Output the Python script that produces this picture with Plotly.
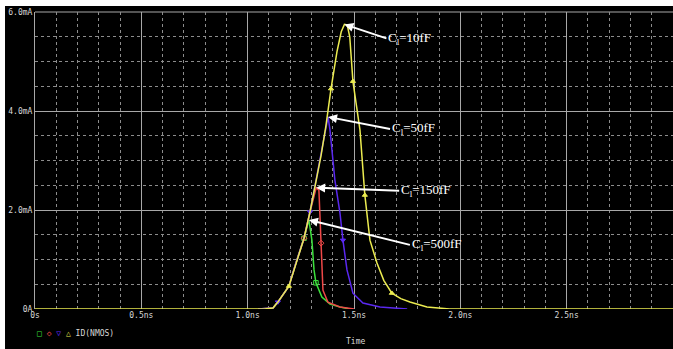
import plotly.graph_objects as go
import numpy as np

# ---------------- data (time in ns, current in mA) ----------------
t_10 = [0.0, 1.08, 1.119, 1.142, 1.194, 1.227, 1.265, 1.293, 1.316, 1.345, 1.368, 1.392, 1.42, 1.44,
        1.455, 1.468, 1.48, 1.495, 1.528, 1.551, 1.575, 1.608, 1.64, 1.678, 1.72, 1.763, 1.843, 1.95, 3.0]
i_10 = [0.0, 0.0, 0.02, 0.14, 0.46, 0.93, 1.43, 1.96, 2.46, 3.1, 3.7, 4.45, 5.2, 5.6,
        5.75, 5.74, 5.5, 4.6, 3.62, 2.30, 1.39, 0.93, 0.58, 0.32, 0.21, 0.14, 0.04, 0.0, 0.0]

t_50 = [1.05, 1.119, 1.142, 1.194, 1.227, 1.265, 1.293, 1.316, 1.345, 1.378, 1.387, 1.41, 1.434,
        1.448, 1.467, 1.495, 1.542, 1.622, 1.75]
i_50 = [0.0, 0.02, 0.14, 0.46, 0.93, 1.43, 1.96, 2.46, 3.1, 3.88, 3.62, 2.61, 1.94,
        1.39, 0.79, 0.32, 0.12, 0.04, 0.0]

t_150 = [1.05, 1.119, 1.142, 1.194, 1.227, 1.265, 1.293, 1.322, 1.335, 1.345, 1.354, 1.377, 1.434, 1.5]
i_150 = [0.0, 0.02, 0.14, 0.46, 0.93, 1.43, 1.96, 2.45, 2.40, 1.33, 0.38, 0.14, 0.04, 0.0]

t_500 = [1.05, 1.119, 1.142, 1.194, 1.227, 1.265, 1.288, 1.302, 1.312, 1.321, 1.349, 1.387, 1.434, 1.48]
i_500 = [0.0, 0.02, 0.14, 0.46, 0.93, 1.43, 1.80, 1.39, 0.79, 0.53, 0.24, 0.10, 0.04, 0.0]

# indices of data points that carry a marker symbol
mk_10 = [4, 11, 17, 19, 23]
mk_50 = [2, 6, 13]
mk_150 = [5, 9]
mk_500 = [5, 9]

labels = ["C<sub>l</sub>=10fF", "C<sub>l</sub>=50fF", "C<sub>l</sub>=150fF", "C<sub>l</sub>=500fF"]

x_tickvals = [0, 0.5, 1.0, 1.5, 2.0, 2.5, 3.0]
x_ticktext = ["0s", "0.5ns", "1.0ns", "1.5ns", "2.0ns", "2.5ns", "3.0ns"]
y_tickvals = [0, 2, 4, 6]
y_ticktext = ["0A", "2.0mA", "4.0mA", "6.0mA"]

# ---------------- styling ----------------
YEL = "#ecec50"
GRN = "#3ce03c"
RED = "#f04848"
BLU = "#5a28f0"
GRID = "#a8a8a8"
MINOR = "#8c8c8c"
TXT = "#d8d8d8"
MONO = "DejaVu Sans Mono"

series = [
    (t_500, i_500, mk_500, GRN, "square-open"),
    (t_150, i_150, mk_150, RED, "diamond-open"),
    (t_50, i_50, mk_50, BLU, "triangle-down"),
    (t_10, i_10, mk_10, YEL, "triangle-up"),
]

fig = go.Figure()
for t, i, mk, col, sym in series:
    fig.add_trace(go.Scatter(x=t, y=i, mode="lines", line=dict(color=col, width=1.5),
                             hoverinfo="skip", showlegend=False))
    fig.add_trace(go.Scatter(x=[t[k] for k in mk], y=[i[k] for k in mk], mode="markers",
                             marker=dict(symbol=sym, size=4.5, color=col, line=dict(color=col, width=1)),
                             hoverinfo="skip", showlegend=False))

# annotations with arrows pointing to each peak
ann_series = [(t_10, i_10), (t_50, i_50), (t_150, i_150), (t_500, i_500)]
offsets = [(42, 14), (62, 12), (83, 3), (101, 25)]
annotations = []
for (t, i), lab, (ax, ay) in zip(ann_series, labels, offsets):
    k = int(np.argmax(i))
    annotations.append(dict(x=t[k], y=i[k], xref="x", yref="y", text=lab, showarrow=True,
                            ax=ax, ay=ay, xanchor="left", yanchor="middle",
                            arrowcolor="white", arrowwidth=2, arrowhead=2, arrowsize=0.9,
                            font=dict(family="Liberation Serif", size=13, color="white")))

legend_txt = (f'<span style="color:{GRN}">□</span> <span style="color:{RED}">◇</span> '
              f'<span style="color:{BLU}">▽</span> <span style="color:{YEL}">△</span> ID(NMOS)')
annotations.append(dict(x=0, y=-0.081, xref="paper", yref="paper", text=legend_txt, showarrow=False,
                        xanchor="left", yanchor="middle", font=dict(family=MONO, size=8, color=TXT)))
annotations.append(dict(x=0.503, y=-0.111, xref="paper", yref="paper", text="Time", showarrow=False,
                        xanchor="center", yanchor="middle", font=dict(family=MONO, size=8, color=TXT)))

fig.update_layout(
    width=673, height=349,
    margin=dict(l=35, r=0, t=12, b=40),
    paper_bgcolor="black", plot_bgcolor="black",
    annotations=annotations,
    xaxis=dict(range=[0, 3.0], tickvals=x_tickvals, ticktext=x_ticktext, showgrid=True,
               gridcolor=GRID, gridwidth=1, zeroline=False, showline=False, ticks="",
               tickfont=dict(family=MONO, size=8, color=TXT),
               minor=dict(dtick=0.1, showgrid=True, gridcolor=MINOR, griddash="dot", gridwidth=1)),
    yaxis=dict(range=[0, 6.0], tickvals=y_tickvals, ticktext=y_ticktext, showgrid=True,
               gridcolor=GRID, gridwidth=1, zeroline=False, showline=True, linecolor=GRID,
               ticks="", tickfont=dict(family=MONO, size=8, color=TXT),
               minor=dict(dtick=0.5, showgrid=True, gridcolor=MINOR, griddash="dot", gridwidth=1)),
    shapes=[
        dict(type="rect", xref="paper", yref="paper", x0=-0.06, x1=1.01, y0=1.0202, y1=1.05,
             fillcolor="white", line=dict(width=0), layer="above"),
        dict(type="rect", xref="paper", yref="paper", x0=-0.06, x1=-0.0470, y0=-0.2, y1=1.05,
             fillcolor="white", line=dict(width=0), layer="above"),
        dict(type="line", xref="paper", yref="paper", x0=0, x1=1, y0=1, y1=1,
             line=dict(color=GRID, width=1), layer="below"),
    ],
)

fig.write_html("out.html")
